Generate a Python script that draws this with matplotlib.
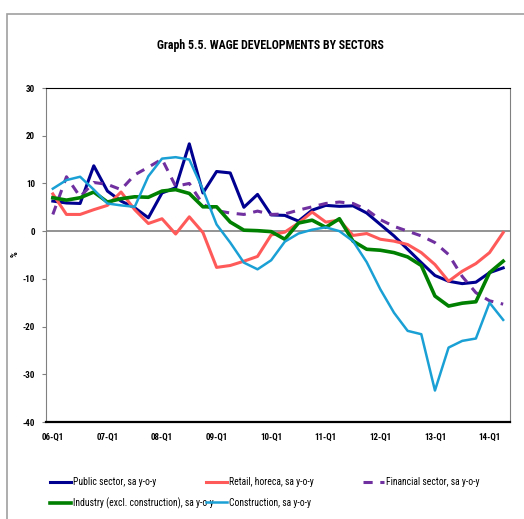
import matplotlib as mpl
mpl.use('Agg')
import matplotlib.pyplot as plt
from matplotlib import font_manager as fm
from matplotlib.patches import Rectangle

# quarters 06-Q1 .. 14-Q2
quarters = ['%02d-Q%d' % (y, q) for y in range(6, 15) for q in range(1, 5)][:34]

public = [6.3, 5.9, 5.8, 13.7, 8.4, 6.3, 4.9, 2.8, 8.0, 9.1, 18.3, 8.0, 12.5, 12.2, 5.0, 7.7,
          3.4, 3.3, 2.1, 4.4, 5.4, 5.2, 5.3, 3.8, 1.4, -1.0, -3.8, -6.6, -9.3, -10.5, -11.0, -10.7,
          -8.7, -7.7]
retail = [7.8, 3.5, 3.5, 4.5, 5.4, 8.2, 4.5, 1.6, 2.6, -0.6, 3.0, -0.3, -7.6, -7.2, -6.3, -5.3,
          -0.8, -0.2, 1.7, 4.0, 1.9, 2.3, -0.9, -0.5, -1.7, -2.1, -2.8, -4.5, -7.0, -10.5, -8.4, -6.8,
          -4.5, -0.3]
financial = [3.5, 11.4, 7.2, 10.2, 9.8, 8.7, 11.8, 13.4, 15.1, 9.4, 10.0, 5.6, 4.3, 3.8, 3.5, 4.2,
             3.5, 3.6, 4.4, 5.1, 5.8, 6.1, 5.8, 4.5, 2.4, 1.0, 0.0, -1.0, -2.4, -4.9, -9.5, -12.9,
             -14.6, -15.3]
industry = [7.0, 6.5, 7.0, 8.2, 6.1, 6.8, 7.2, 7.1, 8.4, 8.7, 7.9, 5.1, 5.1, 1.9, 0.2, 0.1,
            -0.1, -1.7, 1.7, 2.3, 0.8, 2.6, -2.1, -3.8, -4.0, -4.5, -5.4, -7.2, -13.6, -15.7, -15.1, -14.8,
            -8.7, -6.3]
construction = [8.9, 10.7, 11.4, 8.7, 5.8, 5.4, 5.1, 11.5, 15.2, 15.5, 15.0, 8.7, 1.4, -2.4, -6.6, -8.0,
                -6.1, -2.2, -0.5, 0.3, 0.8, 0.0, -2.1, -6.5, -12.2, -17.1, -20.9, -21.6, -33.4, -24.4, -23.0, -22.5,
                -15.0, -18.6]

xticklabels = ['06-Q1', '07-Q1', '08-Q1', '09-Q1', '10-Q1', '11-Q1', '12-Q1', '13-Q1', '14-Q1']
yticks = [30, 20, 10, 0, -10, -20, -30, -40]

# pick a narrow font close to the original
available = set(f.name for f in fm.fontManager.ttflist)
narrow = None
for name in ['Liberation Sans Narrow', 'Roboto Condensed', 'Open Sans Condensed', 'Encode Sans Condensed']:
    if name in available:
        narrow = name
        break
if narrow:
    plt.rcParams['font.family'] = [narrow, 'DejaVu Sans']
else:
    plt.rcParams['font.family'] = ['DejaVu Sans']
    plt.rcParams['font.stretch'] = 'condensed'

W, H = 524, 519
fig = plt.figure(figsize=(W / 100, H / 100), dpi=100)
fig.patches.append(Rectangle((6.5 / W, -0.1), 1.2, 1 - 13.5 / H + 0.1, transform=fig.transFigure,
                             fill=False, edgecolor='#a0a0a0', linewidth=1.2))

ax = fig.add_axes([46 / W, 1 - 422 / H, (510 - 46) / W, (422 - 88) / H])
x = list(range(len(quarters)))

ax.plot(x, public, color='#000090', lw=2.2, label='Public sector, sa y-o-y')
ax.plot(x, retail, color='#FF5A5A', lw=2.2, label='Retail, horeca, sa y-o-y')
ax.plot(x, financial, color='#7030A0', lw=2.2, ls=(0, (3, 2.5)), label='Financial sector, sa y-o-y')
ax.plot(x, industry, color='#008000', lw=2.6, label='Industry (excl. construction), sa y-o-y')
ax.plot(x, construction, color='#1AA0D4', lw=1.8, label='Construction, sa y-o-y')
ax.axhline(0, color='#808080', lw=1.2, zorder=0)

ax.set_xlim(-0.5, len(quarters) - 0.5)
ax.set_ylim(-40, 30)
ax.set_yticks(yticks)
ax.set_yticklabels([str(v) for v in yticks], fontsize=6.5, fontweight='bold')
ax.set_xticks([quarters.index(q) for q in xticklabels])
ax.set_xticklabels(xticklabels, fontsize=6.5, fontweight='bold')
ax.tick_params(axis='x', length=0, pad=8)
ax.tick_params(axis='y', length=3, color='#808080', pad=5)
ax.spines['left'].set_color('#808080')
ax.spines['right'].set_color('#808080')
ax.spines['top'].set_color('black')
ax.spines['bottom'].set_color('black')
ax.spines['bottom'].set_linewidth(1.6)
ax.set_ylabel('%', fontsize=6.5, fontweight='bold')
ax.yaxis.set_label_coords((20 - 46) / 464, (422 - 254) / 334)

fig.text(270 / W, 1 - 45 / H, 'Graph 5.5. WAGE DEVELOPMENTS BY SECTORS', ha='center', va='center',
         fontsize=8.6, fontweight='bold')

h, l = ax.get_legend_handles_labels()
columns = [([0, 3], 50), ([1, 4], 206), ([2], 363)]
for idx, xpos in columns:
    fig.legend([h[i] for i in idx], [l[i] for i in idx], loc='upper left',
               bbox_to_anchor=(xpos / W, 1 - 477 / H), frameon=False, fontsize=6.9,
               handlelength=2.2, handletextpad=0.15, labelspacing=1.1,
               borderpad=0, borderaxespad=0)

fig.savefig('out.png', dpi=100)
